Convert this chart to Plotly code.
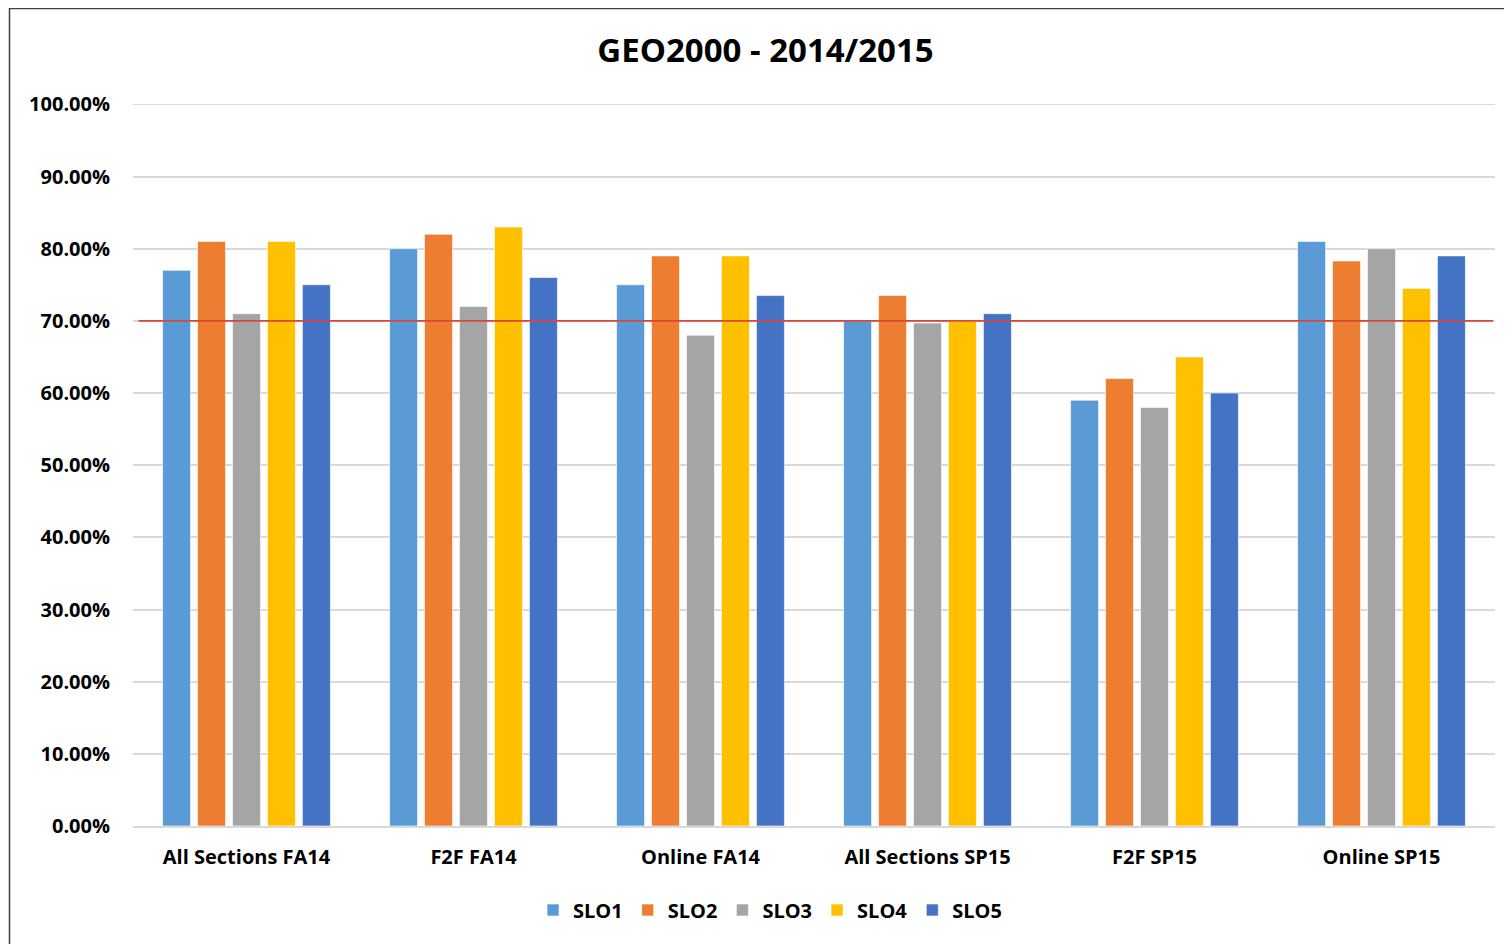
import plotly.graph_objects as go

categories = ["All Sections FA14", "F2F FA14", "Online FA14", "All Sections SP15", "F2F SP15", "Online SP15"]
series_names = ["SLO1", "SLO2", "SLO3", "SLO4", "SLO5"]
slo1 = [0.77, 0.80, 0.75, 0.70, 0.59, 0.81]
slo2 = [0.81, 0.82, 0.79, 0.735, 0.62, 0.783]
slo3 = [0.71, 0.72, 0.68, 0.697, 0.58, 0.80]
slo4 = [0.81, 0.83, 0.79, 0.70, 0.65, 0.745]
slo5 = [0.75, 0.76, 0.735, 0.71, 0.60, 0.79]
target = 0.70
y_ticks = [0.0, 0.1, 0.2, 0.3, 0.4, 0.5, 0.6, 0.7, 0.8, 0.9, 1.0]

colors = ["#5B9BD5", "#ED7D31", "#A5A5A5", "#FFC000", "#4472C4"]
values = [slo1, slo2, slo3, slo4, slo5]

FONT = "Open Sans"
L, T, PW, PH = 125, 96, 1362, 722

fig = go.Figure()
for name, vals, col in zip(series_names, values, colors):
    fig.add_trace(go.Bar(
        x=categories, y=vals, name=name,
        marker=dict(color=col, line=dict(color="rgba(255,255,255,0.6)", width=1)),
    ))

# top gridline (at the range edge)
fig.add_shape(type="line", xref="paper", yref="y", x0=0, x1=1,
              y0=y_ticks[-1], y1=y_ticks[-1], line=dict(color="#D9D9D9", width=1.5), layer="below")

# target line
fig.add_shape(type="line", xref="paper", yref="y", x0=0.004, x1=0.9985,
              y0=target, y1=target, line=dict(color="#D9473A", width=1.6), layer="above")

# outer chart border
fig.add_shape(type="rect", xref="paper", yref="paper",
              x0=(1.5 - L) / PW, x1=1.2, y0=-0.3, y1=(T + PH - 0.5) / PH,
              line=dict(color="#404040", width=1.5), fillcolor="rgba(0,0,0,0)", layer="below")

fig.update_layout(
    width=1512, height=944,
    margin=dict(l=L, r=1512 - L - PW, t=T, b=944 - T - PH),
    paper_bgcolor="white", plot_bgcolor="white",
    title=dict(text="<b>GEO2000 - 2014/2015</b>", x=0.501, xref="container", xanchor="center",
               y=1 - 42 / 944, yref="container", yanchor="middle",
               font=dict(family=FONT, size=33, color="#000000")),
    barmode="group", bargap=0.23, bargroupgap=0.2,
    showlegend=True,
    legend=dict(orientation="h", x=0.504, xref="container", xanchor="center",
                y=1 - 902 / 944, yref="container", yanchor="middle",
                font=dict(family=FONT, size=20, color="#000000", weight="bold"),
                itemwidth=30, tracegroupgap=0),
    font=dict(family=FONT, color="#000000"),
)
fig.update_xaxes(
    showgrid=False, showline=True, linecolor="#D9D9D9", linewidth=1.5,
    tickfont=dict(family=FONT, size=20, color="#000000", weight="bold"),
    ticks="", ticklabelstandoff=12,
)
fig.update_yaxes(
    range=[0, 1.0005], tickvals=y_ticks, tickformat=".2%",
    showgrid=True, gridcolor="#D9D9D9", gridwidth=1.5, zeroline=False,
    tickfont=dict(family=FONT, size=20, color="#000000", weight="bold"),
    ticks="", ticklabelstandoff=22,
)

fig.write_html("out.html")
